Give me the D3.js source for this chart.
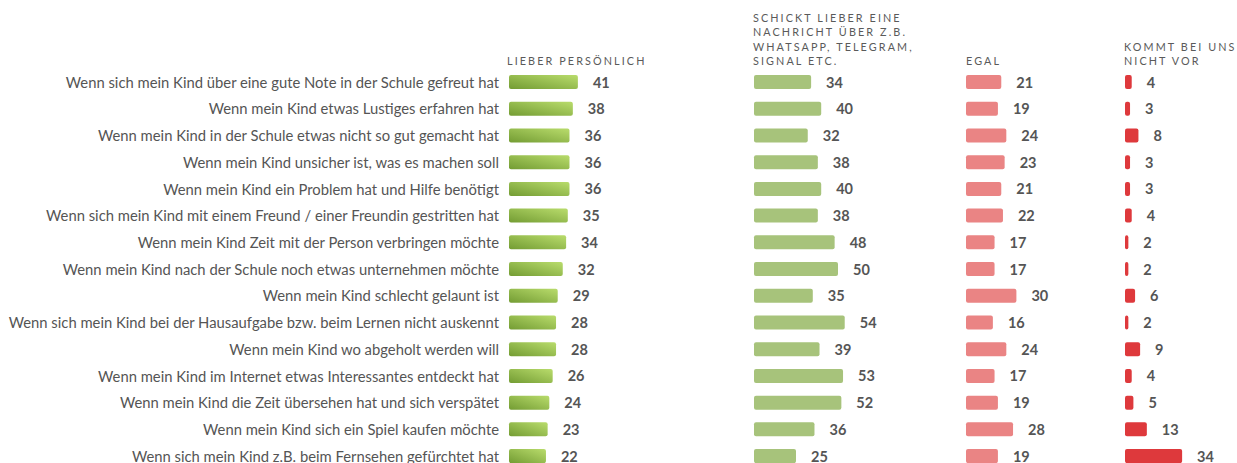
<!DOCTYPE html>
<html>
<head>
<meta charset="utf-8">
<script src="https://cdn.jsdelivr.net/npm/d3@7"></script>
<style>
  body { margin: 0; background: #fff; }
  svg { display: block; font-family: Lato, sans-serif; }
</style>
</head>
<body>
<script>
// rows, top to bottom
var categories = [
  "Wenn sich mein Kind über eine gute Note in der Schule gefreut hat",
  "Wenn mein Kind etwas Lustiges erfahren hat",
  "Wenn mein Kind in der Schule etwas nicht so gut gemacht hat",
  "Wenn mein Kind unsicher ist, was es machen soll",
  "Wenn mein Kind ein Problem hat und Hilfe benötigt",
  "Wenn sich mein Kind mit einem Freund / einer Freundin gestritten hat",
  "Wenn mein Kind Zeit mit der Person verbringen möchte",
  "Wenn mein Kind nach der Schule noch etwas unternehmen möchte",
  "Wenn mein Kind schlecht gelaunt ist",
  "Wenn sich mein Kind bei der Hausaufgabe bzw. beim Lernen nicht auskennt",
  "Wenn mein Kind wo abgeholt werden will",
  "Wenn mein Kind im Internet etwas Interessantes entdeckt hat",
  "Wenn mein Kind die Zeit übersehen hat und sich verspätet",
  "Wenn mein Kind sich ein Spiel kaufen möchte",
  "Wenn sich mein Kind z.B. beim Fernsehen gefürchtet hat"
];

var persoenlich = [41, 38, 36, 36, 36, 35, 34, 32, 29, 28, 28, 26, 24, 23, 22];
var nachricht   = [34, 40, 32, 38, 40, 38, 48, 50, 35, 54, 39, 53, 52, 36, 25];
var egal        = [21, 19, 24, 23, 21, 22, 17, 17, 30, 16, 24, 17, 19, 28, 19];
var kommtNicht  = [4, 3, 8, 3, 3, 4, 2, 2, 6, 2, 9, 4, 5, 13, 34];

var headers = [
  ["LIEBER PERSÖNLICH"],
  ["SCHICKT LIEBER EINE", "NACHRICHT ÜBER Z.B.", "WHATSAPP, TELEGRAM,", "SIGNAL ETC."],
  ["EGAL"],
  ["KOMMT BEI UNS", "NICHT VOR"]
];

var width = 1237, height = 463;

var svg = d3.select("body").append("svg")
    .attr("width", width)
    .attr("height", height);

var defs = svg.append("defs");
var grad = defs.append("linearGradient")
    .attr("id", "greenGrad")
    .attr("x1", "0%").attr("y1", "100%")
    .attr("x2", "100%").attr("y2", "0%");
grad.append("stop").attr("offset", "0%").attr("stop-color", "#739c33");
grad.append("stop").attr("offset", "100%").attr("stop-color", "#b9dc6c");

var columns = [
  { values: persoenlich, x: 509, fill: "url(#greenGrad)", header: headers[0], hx: 507 },
  { values: nachricht,   x: 754, fill: "#a7c37b",         header: headers[1], hx: 753 },
  { values: egal,        x: 966, fill: "#ea8484",         header: headers[2], hx: 966 },
  { values: kommtNicht,  x: 1125, fill: "#de393c",        header: headers[3], hx: 1124 }
];

// one shared value scale for all columns
var x = d3.scaleLinear().domain([0, 100]).range([0, 168]);

var y = d3.scaleBand()
    .domain(categories)
    .range([75 - 6.35, 75 - 6.35 + 26.72 * categories.length])
    .paddingInner(0.476)
    .paddingOuter(0.238);

var textColor = "#555";

// row labels
svg.append("g").selectAll("text")
    .data(categories)
    .join("text")
    .attr("x", 499)
    .attr("y", function(d) { return y(d) + y.bandwidth() / 2; })
    .attr("dy", "0.38em")
    .attr("text-anchor", "end")
    .attr("fill", textColor)
    .style("font-size", "14.8px")
    .text(function(d) { return d; });

columns.forEach(function(col) {
  var g = svg.append("g");

  // header, bottom aligned
  var n = col.header.length;
  g.selectAll("text.head")
      .data(col.header)
      .join("text")
      .attr("class", "head")
      .attr("x", col.hx)
      .attr("y", function(d, i) { return 65 - (n - 1 - i) * 14.3; })
      .attr("fill", "#5a5a5a")
      .style("font-size", "10.8px")
      .style("letter-spacing", "2.1px")
      .text(function(d) { return d; });

  g.selectAll("rect")
      .data(col.values)
      .join("rect")
      .attr("x", col.x)
      .attr("y", function(d, i) { return y(categories[i]); })
      .attr("width", function(d) { return x(d); })
      .attr("height", y.bandwidth())
      .attr("rx", 2)
      .attr("fill", col.fill);

  g.selectAll("text.val")
      .data(col.values)
      .join("text")
      .attr("class", "val")
      .attr("x", function(d) { return col.x + x(d) + 15; })
      .attr("y", function(d, i) { return y(categories[i]) + y.bandwidth() / 2; })
      .attr("dy", "0.38em")
      .attr("fill", textColor)
      .style("font-size", "14.5px")
      .style("font-weight", "bold")
      .text(function(d) { return d; });
});
</script>
</body>
</html>
